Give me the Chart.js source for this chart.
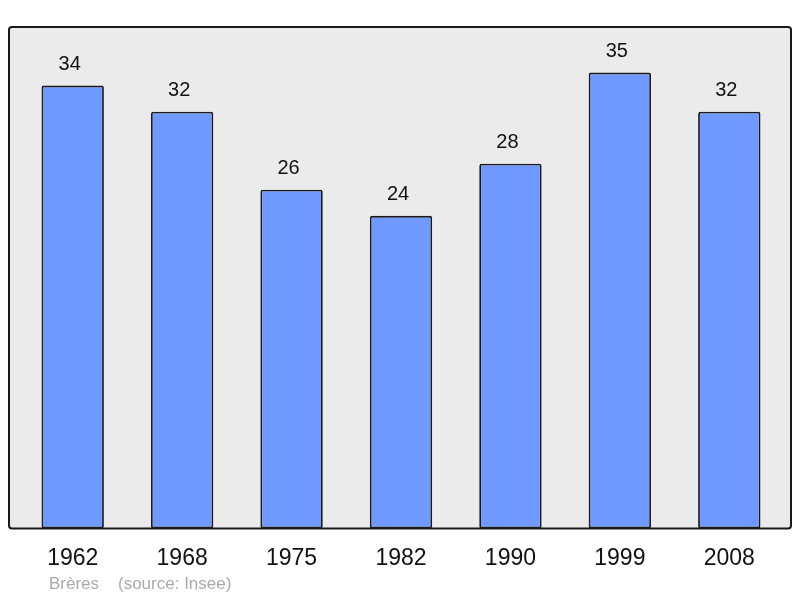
<!DOCTYPE html>
<html>
<head>
<meta charset="utf-8">
<script src="https://cdn.jsdelivr.net/npm/chart.js@4"></script>
<style>
  html, body { margin: 0; padding: 0; background: #fff; }
  #wrap { width: 800px; height: 598px; }
</style>
</head>
<body>
<div id="wrap"><canvas id="popChart" width="800" height="598"></canvas></div>
<script>
// --- data ---
const years = ["1962", "1968", "1975", "1982", "1990", "1999", "2008"];
const population = [34, 32, 26, 24, 28, 35, 32];
const townName = "Brères";
const sourceText = "(source: Insee)";

// grey box behind the bars + value labels + footer
const decorPlugin = {
    id: 'decor',
    beforeDraw(chart) {
        const { ctx, chartArea: a } = chart;
        const x0 = a.left - 9, x1 = a.right + 7, y0 = a.top, y1 = a.bottom;
        ctx.save();
        ctx.beginPath();
        ctx.roundRect(x0, y0, x1 - x0, y1 - y0, 3);
        ctx.fillStyle = '#ebebeb';
        ctx.fill();
        ctx.restore();
    },
    afterDatasetsDraw(chart) {
        const { ctx, chartArea: a } = chart;
        const x0 = a.left - 9, x1 = a.right + 7, y0 = a.top, y1 = a.bottom;
        ctx.save();
        ctx.beginPath();
        ctx.roundRect(x0, y0, x1 - x0, y1 - y0, 3);
        ctx.lineWidth = 2;
        ctx.strokeStyle = '#1a1a1a';
        ctx.stroke();

        // values above bars
        const meta = chart.getDatasetMeta(0);
        ctx.fillStyle = '#111';
        ctx.font = '20px "Liberation Sans", Arial, sans-serif';
        ctx.textAlign = 'center';
        ctx.textBaseline = 'middle';
        meta.data.forEach((bar, i) => {
            ctx.fillText(String(population[i]), bar.x - 3, bar.y - 21);
        });

        // footer
        ctx.fillStyle = '#aaaaaa';
        ctx.font = '17px "Liberation Sans", Arial, sans-serif';
        ctx.textAlign = 'left';
        ctx.fillText(townName, 49, 584);
        ctx.fillText(sourceText, 118, 584);
        ctx.restore();
    }
};

new Chart(document.getElementById('popChart'), {
    type: 'bar',
    data: {
        labels: years,
        datasets: [{
            data: population,
            backgroundColor: '#7099ff',
            borderColor: '#1a1a1a',
            borderWidth: 1.8,
            borderRadius: 2,
            borderSkipped: false,
            barPercentage: 0.57,
            categoryPercentage: 1
        }]
    },
    options: {
        responsive: false,
        animation: false,
        layout: { padding: { left: 18, right: 16, top: 27, bottom: 18 } },
        plugins: { legend: { display: false }, tooltip: { enabled: false } },
        scales: {
            x: {
                grid: { display: false, drawBorder: false },
                border: { display: false },
                ticks: {
                    color: '#111',
                    font: { family: '"Liberation Sans", Arial, sans-serif', size: 23 },
                    padding: 8,
                    maxRotation: 0
                }
            },
            y: {
                display: false,
                min: 0,
                max: 38.5
            }
        }
    },
    plugins: [decorPlugin]
});
</script>
</body>
</html>
